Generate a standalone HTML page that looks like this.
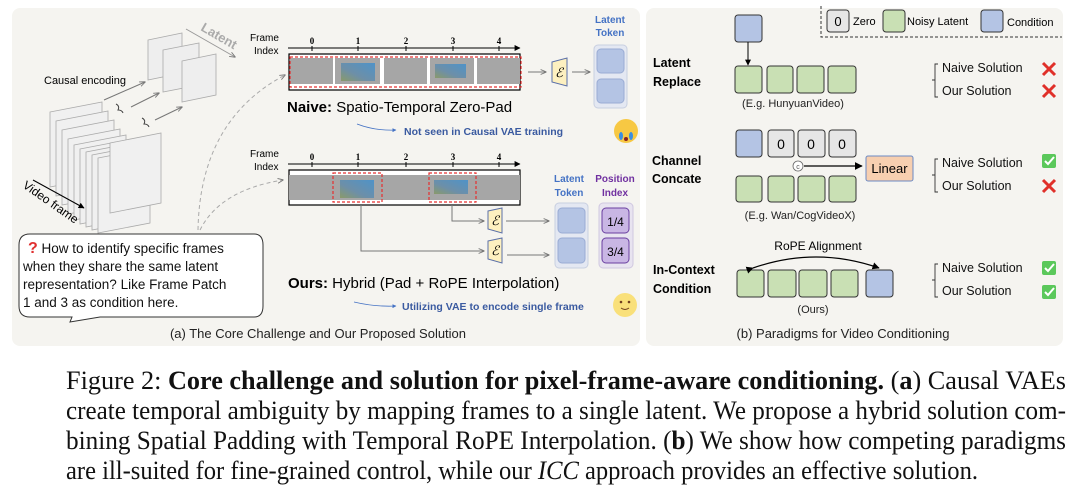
<!DOCTYPE html>
<html><head><meta charset="utf-8"><style>
body{margin:0;width:1080px;height:495px;background:#fff;overflow:hidden;position:relative;font-family:"Liberation Sans",sans-serif}
svg{position:absolute;left:0;top:0}
</style></head><body>
<svg width="1080" height="495" viewBox="0 0 1080 495" font-family="Liberation Sans, sans-serif">
<defs>
<marker id="ah" viewBox="0 0 10 10" refX="9" refY="5" markerWidth="6" markerHeight="6" orient="auto"><path d="M0,0L10,5L0,10z" fill="#000"/></marker>
<marker id="ag" viewBox="0 0 10 10" refX="9" refY="5" markerWidth="6" markerHeight="6" orient="auto"><path d="M0,1L10,5L0,9" fill="none" stroke="#777" stroke-width="1.5"/></marker>
<marker id="ab" viewBox="0 0 10 10" refX="9" refY="5" markerWidth="5" markerHeight="5" orient="auto"><path d="M0,0L10,5L0,10z" fill="#4472c4"/></marker>
<linearGradient id="img" x1="0" y1="1" x2="1" y2="0"><stop offset="0" stop-color="#8a9a6a"/><stop offset="0.4" stop-color="#6d8fa8"/><stop offset="1" stop-color="#4f93c8"/></linearGradient>
</defs>
<rect x="12" y="8" width="628" height="338" rx="8" fill="#f5f4f0"/>
<rect x="646" y="8" width="417" height="338" rx="8" fill="#f5f4f0"/>

<g fill="#f0f0f0" stroke="#aaa" stroke-width="0.8">
<polygon points="50,112 102,102 102,177 50,187"/>
<polygon points="56,121 108,111 108,186 56,196"/>
<polygon points="62,130 114,120 114,195 62,205"/>
<polygon points="68,139 120,129 120,204 68,214"/>
<polygon points="74,148 126,138 126,213 74,223" transform="translate(0,-3)"/>
<polygon points="80,154 132,144 132,219 80,229" transform="translate(0,-5)"/>
<polygon points="86,160 138,150 138,225 86,235" transform="translate(0,-8)"/>
<polygon points="92,166 144,156 144,231 92,241" transform="translate(0,-11)"/>
<polygon points="98,172 150,162 150,237 98,247" transform="translate(0,-14)"/>
<polygon points="110,143 161,133 161,203 110,213"/>
</g>
<g fill="#eee" stroke="#aaa" stroke-width="0.8">
<polygon points="148,40 182,33 182,73 148,80"/>
<polygon points="163,50 199,43 199,85 163,92"/>
<polygon points="182,61 216,54 216,95 182,102"/>
</g>
<text x="200" y="30" font-size="13" font-weight="bold" fill="#aaa" transform="rotate(30 200 30)">Latent</text>
<line x1="186" y1="29" x2="235" y2="57" stroke="#999" marker-end="url(#ag)"/>
<text x="44" y="84" font-size="11">Causal encoding</text>
<g stroke="#777" fill="none" marker-end="url(#ag)">
<line x1="104" y1="100" x2="145" y2="82"/>
<line x1="131" y1="107" x2="159" y2="93"/>
<line x1="155" y1="120" x2="182" y2="107"/>
</g>
<path d="M116,104 q4,2 2,6 q4,0 5,3 M142,118 q4,2 2,6 q4,0 5,3" stroke="#444" fill="none"/>
<text x="22" y="187" font-size="12" transform="rotate(35 22 187)">Video frame</text>
<line x1="33" y1="180" x2="84" y2="208" stroke="#000" marker-end="url(#ah)"/>
<path d="M198,230 Q200,120 285,75" stroke="#aaa" stroke-dasharray="4,3" fill="none" marker-end="url(#ag)"/>
<path d="M200,230 Q220,190 283,180" stroke="#aaa" stroke-dasharray="4,3" fill="none" marker-end="url(#ag)"/>

<path d="M30,234 H254 Q263,234 263,245 V306 Q263,317 254,317 H100 L70,322 L72,317 H30 Q19,317 19,306 V245 Q19,234 30,234Z" fill="#fff" stroke="#333" stroke-width="1"/>
<g font-size="13.5" fill="#111">
<text x="28" y="253"><tspan fill="#e03030" font-size="16" font-weight="bold">?</tspan> How to identify specific frames</text>
<text x="23" y="271">when they share the same latent</text>
<text x="23" y="289">representation? Like Frame Patch</text>
<text x="23" y="307">1 and 3 as condition here.</text>
</g>

<text x="250" y="41" font-size="10">Frame</text><text x="254" y="54" font-size="10">Index</text>
<line x1="288" y1="48" x2="520" y2="48" stroke="#000" marker-end="url(#ah)"/>
<g font-size="9" font-weight="bold" font-family="Liberation Serif, serif" text-anchor="middle">
<text x="312" y="44">0</text><text x="358" y="44">1</text><text x="406" y="44">2</text><text x="453" y="44">3</text><text x="499" y="44">4</text>
<text x="312" y="160">0</text><text x="358" y="160">1</text><text x="406" y="160">2</text><text x="453" y="160">3</text><text x="499" y="160">4</text>
</g>
<g stroke="#000"><line x1="312" y1="46" x2="312" y2="51"/><line x1="358" y1="46" x2="358" y2="51"/><line x1="406" y1="46" x2="406" y2="51"/><line x1="453" y1="46" x2="453" y2="51"/><line x1="499" y1="46" x2="499" y2="51"/>
<line x1="312" y1="162" x2="312" y2="167"/><line x1="358" y1="162" x2="358" y2="167"/><line x1="406" y1="162" x2="406" y2="167"/><line x1="453" y1="162" x2="453" y2="167"/><line x1="499" y1="162" x2="499" y2="167"/></g>
<rect x="289" y="54" width="231" height="36" fill="#fff" stroke="#000" stroke-width="1.2"/>
<g fill="#a6a6a6"><rect x="290" y="58" width="43" height="26"/><rect x="335" y="58" width="45" height="26"/><rect x="384" y="58" width="43" height="26"/><rect x="430" y="58" width="44" height="26"/><rect x="477" y="58" width="43" height="26"/></g>
<rect x="341" y="63" width="34" height="18" fill="url(#img)"/><rect x="435" y="64" width="31" height="14" fill="url(#img)"/>
<rect x="290" y="57" width="231" height="30" fill="none" stroke="#e53030" stroke-dasharray="3,2" stroke-width="1.2"/>
<line x1="528" y1="72" x2="546" y2="72" stroke="#777" marker-end="url(#ag)"/>
<polygon points="552,62 567,58 567,86 552,82" fill="#fdf0c0" stroke="#5a6fa8"/>
<text x="559" y="77" font-size="13" font-style="italic" text-anchor="middle" font-family="Liberation Serif, serif">ℰ</text>
<line x1="572" y1="72" x2="590" y2="72" stroke="#777" marker-end="url(#ag)"/>
<rect x="594" y="45" width="33" height="63" rx="4" fill="#e4e8f2" stroke="#c8cfe0"/>
<rect x="597" y="49" width="27" height="24" rx="4" fill="#b4c4e4" stroke="#9aacd4"/>
<rect x="597" y="79" width="27" height="24" rx="4" fill="#b4c4e4" stroke="#9aacd4"/>
<text x="610" y="23" font-size="10" font-weight="bold" fill="#4472c4" text-anchor="middle">Latent</text>
<text x="610" y="36" font-size="10" font-weight="bold" fill="#4472c4" text-anchor="middle">Token</text>
<text x="287" y="112" font-size="15"><tspan font-weight="bold">Naive:</tspan> Spatio-Temporal Zero-Pad</text>
<path d="M357,124 Q375,131 396,130" stroke="#4472c4" fill="none" stroke-width="0.8" marker-end="url(#ab)"/>
<text x="404" y="135" font-size="10.5" font-weight="bold" fill="#3a5aa0">Not seen in Causal VAE training</text>
<circle cx="626" cy="131" r="12" fill="#f7c843"/><ellipse cx="621" cy="136" rx="2" ry="4" fill="#3b8ee0"/><ellipse cx="631" cy="136" rx="2" ry="4" fill="#3b8ee0"/><circle cx="626" cy="139" r="2" fill="#8a2020"/>

<text x="250" y="157" font-size="10">Frame</text><text x="254" y="170" font-size="10">Index</text>
<line x1="288" y1="164" x2="520" y2="164" stroke="#000" marker-end="url(#ah)"/>
<rect x="289" y="170" width="231" height="35" fill="#fff" stroke="#000" stroke-width="1.2"/>
<rect x="289" y="175" width="231" height="25" fill="#a6a6a6"/>
<rect x="340" y="180" width="34" height="18" fill="url(#img)"/><rect x="434" y="180" width="34" height="14" fill="url(#img)"/>
<rect x="333" y="173" width="49" height="29" fill="none" stroke="#e53030" stroke-dasharray="3,2" stroke-width="1.2"/>
<rect x="429" y="173" width="47" height="29" fill="none" stroke="#e53030" stroke-dasharray="3,2" stroke-width="1.2"/>
<path d="M361,205 V251 H484" stroke="#777" fill="none" marker-end="url(#ag)"/>
<path d="M452,205 V221 H484" stroke="#777" fill="none" marker-end="url(#ag)"/>
<polygon points="488,211 502,208 502,233 488,229" fill="#fdf0c0" stroke="#5a6fa8"/>
<polygon points="488,241 502,238 502,263 488,259" fill="#fdf0c0" stroke="#5a6fa8"/>
<text x="495" y="225" font-size="13" font-style="italic" text-anchor="middle" font-family="Liberation Serif, serif">ℰ</text>
<text x="495" y="255" font-size="13" font-style="italic" text-anchor="middle" font-family="Liberation Serif, serif">ℰ</text>
<line x1="506" y1="221" x2="549" y2="221" stroke="#777" marker-end="url(#ag)"/>
<line x1="507" y1="255" x2="549" y2="255" stroke="#777" marker-end="url(#ag)"/>
<text x="569" y="182" font-size="10" font-weight="bold" fill="#4472c4" text-anchor="middle">Latent</text>
<text x="569" y="196" font-size="10" font-weight="bold" fill="#4472c4" text-anchor="middle">Token</text>
<text x="615" y="182" font-size="10" font-weight="bold" fill="#7030a0" text-anchor="middle">Position</text>
<text x="615" y="196" font-size="10" font-weight="bold" fill="#7030a0" text-anchor="middle">Index</text>
<rect x="555" y="203" width="33" height="65" rx="4" fill="#e4e8f2" stroke="#c8cfe0"/>
<rect x="558" y="208" width="27" height="25" rx="4" fill="#b4c4e4" stroke="#9aacd4"/>
<rect x="558" y="238" width="27" height="25" rx="4" fill="#b4c4e4" stroke="#9aacd4"/>
<rect x="599" y="203" width="34" height="65" rx="4" fill="#e8e4f0" stroke="#d0c8e0"/>
<rect x="602" y="208" width="27" height="25" rx="4" fill="#c9b6e4" stroke="#6a3fa0"/>
<rect x="602" y="238" width="27" height="25" rx="4" fill="#c9b6e4" stroke="#6a3fa0"/>
<text x="615.5" y="226" font-size="12" text-anchor="middle">1/4</text>
<text x="615.5" y="256" font-size="12" text-anchor="middle">3/4</text>
<text x="288" y="288" font-size="15"><tspan font-weight="bold">Ours:</tspan> Hybrid (Pad + RoPE Interpolation)</text>
<path d="M354,302 Q375,307 396,306" stroke="#4472c4" fill="none" stroke-width="0.8" marker-end="url(#ab)"/>
<text x="402" y="310" font-size="10.5" font-weight="bold" fill="#3a5aa0">Utilizing VAE to encode single frame</text>
<circle cx="625" cy="305" r="12" fill="#f9e07a"/><circle cx="621" cy="302" r="1.3" fill="#704020"/><circle cx="629" cy="302" r="1.3" fill="#704020"/><path d="M621,308 q4,3 8,0" stroke="#704020" fill="none"/>
<text x="318" y="338" font-size="13" text-anchor="middle" fill="#222">(a) The Core Challenge and Our Proposed Solution</text>

<path d="M821,6 V37 H1062" stroke="#333" stroke-dasharray="3,2" fill="none"/>
<rect x="827" y="10" width="22" height="22" rx="3" fill="#e6e6e6" stroke="#333"/><text x="838" y="26" font-size="13" text-anchor="middle">0</text>
<text x="853" y="25" font-size="11">Zero</text>
<rect x="883" y="10" width="22" height="22" rx="3" fill="#c9e0b4" stroke="#333"/><text x="907" y="25" font-size="11">Noisy Latent</text>
<rect x="981" y="10" width="22" height="22" rx="3" fill="#b4c4e4" stroke="#333"/><text x="1007" y="26" font-size="11">Condition</text>

<g font-size="12.5" font-weight="bold"><text x="653" y="67">Latent</text><text x="653" y="86">Replace</text>
<text x="652" y="165">Channel</text><text x="652" y="183">Concate</text>
<text x="653" y="274">In-Context</text><text x="653" y="293">Condition</text></g>

<g stroke="#333" stroke-width="1">
<rect x="735" y="15" width="27" height="27" rx="3" fill="#b4c4e4"/>
<rect x="735" y="66" width="27" height="27" rx="3" fill="#c9e0b4"/><rect x="767" y="66" width="26" height="27" rx="3" fill="#c9e0b4"/><rect x="797" y="66" width="27" height="27" rx="3" fill="#c9e0b4"/><rect x="828" y="66" width="28" height="27" rx="3" fill="#c9e0b4"/>
<rect x="736" y="130" width="26" height="27" rx="3" fill="#b4c4e4"/><rect x="768" y="130" width="26" height="27" rx="3" fill="#e6e6e6"/><rect x="798" y="130" width="27" height="27" rx="3" fill="#e6e6e6"/><rect x="829" y="130" width="27" height="27" rx="3" fill="#e6e6e6"/>
<rect x="736" y="176" width="26" height="26" rx="3" fill="#c9e0b4"/><rect x="768" y="176" width="26" height="26" rx="3" fill="#c9e0b4"/><rect x="798" y="176" width="27" height="26" rx="3" fill="#c9e0b4"/><rect x="829" y="176" width="27" height="26" rx="3" fill="#c9e0b4"/>
<rect x="737" y="270" width="27" height="27" rx="3" fill="#c9e0b4"/><rect x="768" y="270" width="28" height="27" rx="3" fill="#c9e0b4"/><rect x="799" y="270" width="28" height="27" rx="3" fill="#c9e0b4"/><rect x="831" y="270" width="27" height="27" rx="3" fill="#c9e0b4"/><rect x="866" y="270" width="27" height="27" rx="3" fill="#b4c4e4"/>
</g>
<line x1="748" y1="42" x2="748" y2="65" stroke="#000" marker-end="url(#ah)"/>
<g font-size="14" text-anchor="middle"><text x="781" y="149">0</text><text x="811" y="149">0</text><text x="842" y="149">0</text></g>
<circle cx="798" cy="166" r="5" fill="#fff" stroke="#666" stroke-width="0.8"/><text x="798" y="169" font-size="7" text-anchor="middle" fill="#555">c</text>
<line x1="804" y1="166" x2="862" y2="166" stroke="#000" stroke-width="1.3" marker-end="url(#ah)"/>
<rect x="866" y="156" width="47" height="25" rx="2" fill="#f7cfb0" stroke="#6b8ac4"/>
<text x="889.5" y="173" font-size="13" text-anchor="middle">Linear</text>
<g font-size="11" text-anchor="middle" fill="#222"><text x="793" y="107">(E.g. HunyuanVideo)</text><text x="800" y="219">(E.g. Wan/CogVideoX)</text><text x="813" y="313">(Ours)</text></g>
<text x="818" y="250" font-size="12" text-anchor="middle">RoPE Alignment</text>
<path d="M753,268 Q816,246 879,268" stroke="#000" stroke-width="1.2" fill="none" marker-start="url(#ah)" marker-end="url(#ah)"/>

<g font-size="12.5" fill="#111">
<text x="942" y="72">Naive Solution</text><text x="942" y="95">Our Solution</text>
<text x="942" y="167">Naive Solution</text><text x="942" y="190">Our Solution</text>
<text x="942" y="272">Naive Solution</text><text x="942" y="295">Our Solution</text></g>
<g stroke="#333" fill="none" stroke-width="0.9">
<path d="M938,64 h-3 v33 h3 M935,80 h-3"/><path d="M938,159 h-3 v33 h3 M935,175 h-3"/><path d="M938,264 h-3 v33 h3 M935,280 h-3"/></g>
<g stroke="#e0302a" stroke-width="3"><path d="M1043,63 l12,12 M1055,63 l-12,12"/><path d="M1043,85 l12,12 M1055,85 l-12,12"/><path d="M1043,180 l12,12 M1055,180 l-12,12"/></g>
<g><rect x="1042" y="154" width="14" height="14" rx="2" fill="#5bc85b"/><rect x="1042" y="261" width="14" height="14" rx="2" fill="#5bc85b"/><rect x="1042" y="285" width="14" height="14" rx="2" fill="#5bc85b"/></g>
<g stroke="#fff" stroke-width="2" fill="none"><path d="M1045,161 l3,3 l6,-7"/><path d="M1045,268 l3,3 l6,-7"/><path d="M1045,292 l3,3 l6,-7"/></g>
<text x="843" y="338" font-size="13" text-anchor="middle" fill="#222">(b) Paradigms for Video Conditioning</text>

<g font-family="Liberation Serif, serif" font-size="26" fill="#111">
<text x="66" y="389" textLength="1000" lengthAdjust="spacingAndGlyphs">Figure 2:  <tspan font-weight="bold">Core challenge and solution for pixel-frame-aware conditioning.</tspan>  (<tspan font-weight="bold">a</tspan>) Causal VAEs</text>
<text x="66" y="419" textLength="1000" lengthAdjust="spacingAndGlyphs">create temporal ambiguity by mapping frames to a single latent. We propose a hybrid solution com-</text>
<text x="66" y="449" textLength="1000" lengthAdjust="spacingAndGlyphs">bining Spatial Padding with Temporal RoPE Interpolation. (<tspan font-weight="bold">b</tspan>) We show how competing paradigms</text>
<text x="66" y="479" textLength="912" lengthAdjust="spacingAndGlyphs">are ill-suited for fine-grained control, while our <tspan font-style="italic">ICC</tspan> approach provides an effective solution.</text>
</g>
</svg>
</body></html>
